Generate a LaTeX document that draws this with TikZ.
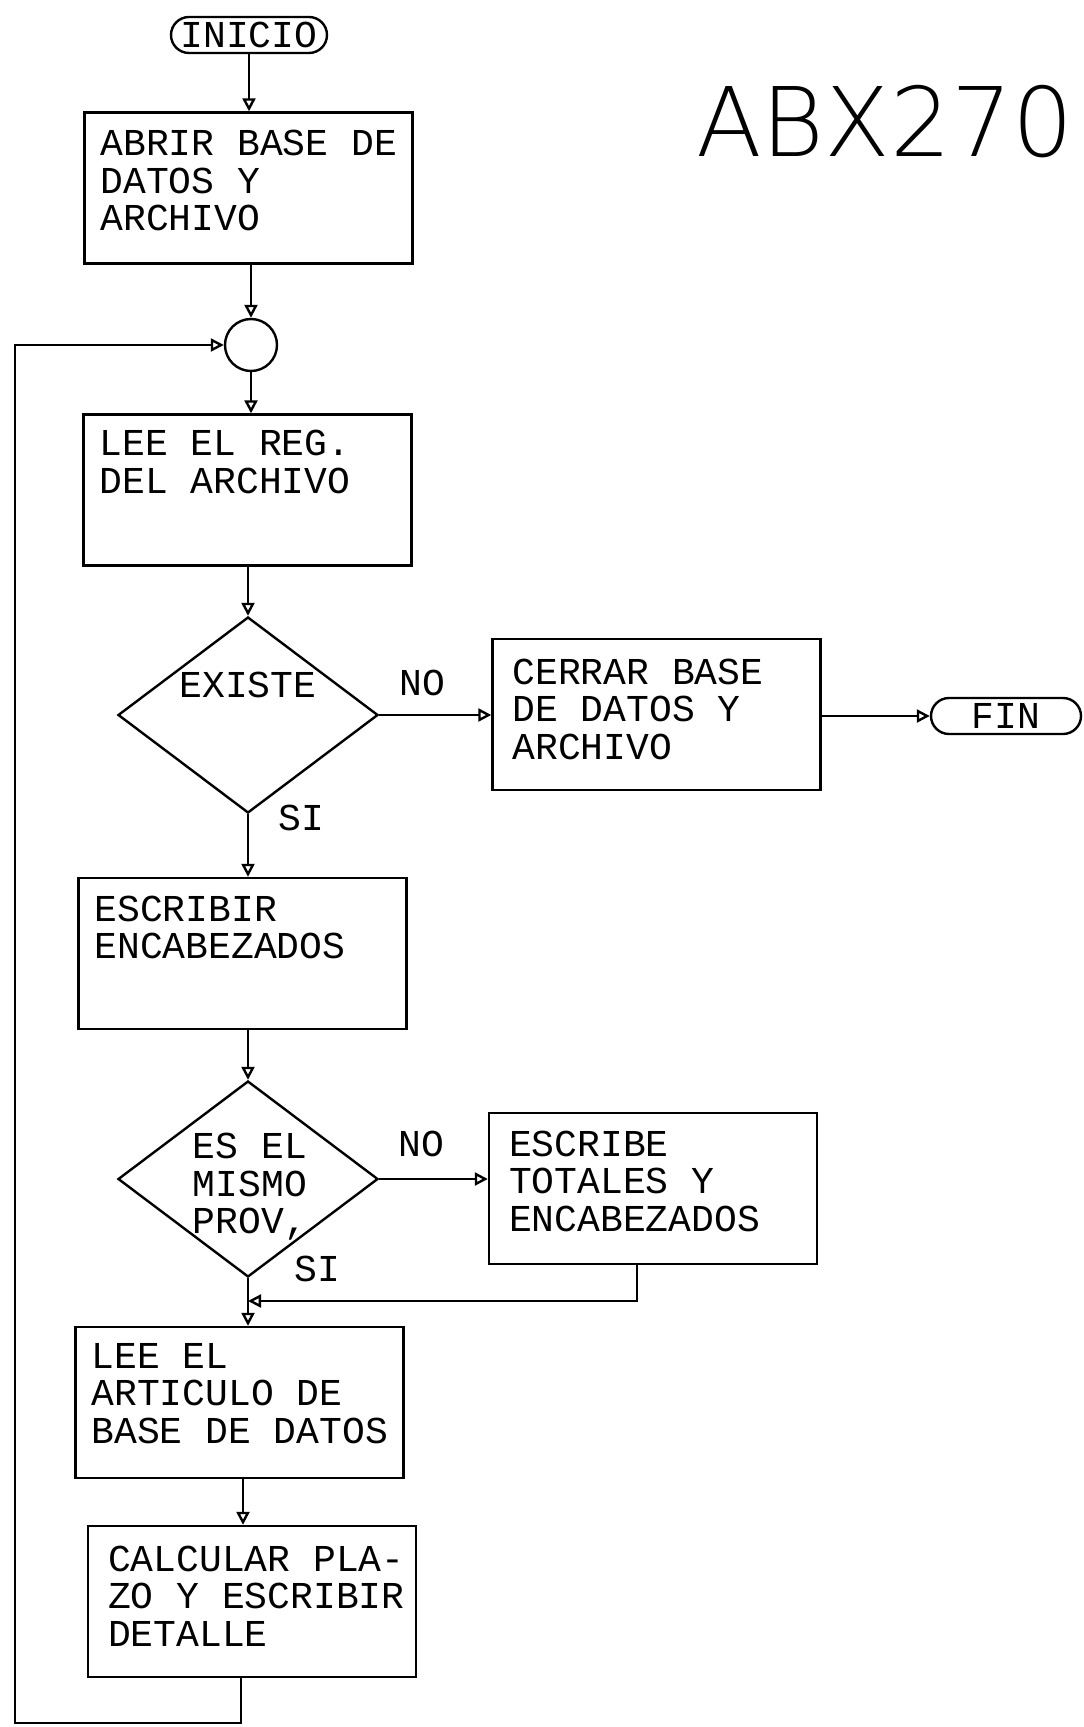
\documentclass[tikz,border=0pt]{standalone}
\usepackage{fontspec}
\newfontfamily\plotfont{Liberation Mono}
\newfontfamily\titlefont{DejaVu Sans ExtraLight}
\usetikzlibrary{positioning,arrows.meta,shapes.geometric}

\begin{document}
\begin{tikzpicture}[x=0.5pt,y=-0.5pt,line width=1.2pt,
  proc/.style={draw,rectangle,minimum width=164pt,minimum height=75.5pt,inner sep=0pt},
  term/.style={draw,rectangle,rounded corners=9pt,minimum height=18pt,inner sep=0pt,
    font=\plotfont\fontsize{19}{18.75}\selectfont},
  dec/.style={draw,diamond,minimum width=130pt,minimum height=98pt,inner sep=0pt},
  conn/.style={draw,circle,minimum size=26pt,inner sep=0pt},
  txt/.style={inner sep=0pt,align=left,anchor=north west,
    font=\plotfont\fontsize{19}{18.75}\selectfont},
  lbl/.style={inner sep=0pt,font=\plotfont\fontsize{19}{18.75}\selectfont},
  flow/.style={-{Triangle[open,length=6.5pt,width=6.5pt]}}]
\useasboundingbox (0,0) rectangle (1083,1727);
% title
\node[inner sep=0pt,font=\titlefont\fontsize{48}{48}\selectfont] (titulo) at (885,122) {ABX270};
% main column
\node[term,minimum width=78pt] (inicio) at (249,35) {INICIO};
\node[proc] (abrir) at (248.5,188) {};
\node[txt] (abrirtxt) at ([xshift=8pt,yshift=-9pt]abrir.north west) {ABRIR BASE DE\\DATOS Y\\ARCHIVO};
\node[conn] (circ) at (251,345) {};
\node[proc] (leereg) at (247.5,490) {};
\node[txt] (leeregtxt) at ([xshift=8pt,yshift=-8pt]leereg.north west) {LEE EL REG.\\DEL ARCHIVO};
\node[dec] (existe) at (248,715) {};
\node[lbl] (existetxt) at (248,685) {EXISTE};
\node[proc] (cerrar) at (656.5,714.5) {};
\node[txt] (cerrartxt) at ([xshift=10pt,yshift=-10pt]cerrar.north west) {CERRAR BASE\\DE DATOS Y\\ARCHIVO};
\node[term,minimum width=75pt] (fin) at (1006,716) {FIN};
\node[proc] (escribir) at (242.5,953.5) {};
\node[txt] (escribirtxt) at ([xshift=8pt,yshift=-9pt]escribir.north west) {ESCRIBIR\\ENCABEZADOS};
\node[dec] (mismo) at (248,1179) {};
\node[lbl,align=left] (mismotxt) at (250,1187) {ES EL\\MISMO\\PROV,};
\node[proc] (totales) at (653,1188.5) {};
\node[txt] (totalestxt) at ([xshift=10pt,yshift=-9pt]totales.north west) {ESCRIBE\\TOTALES Y\\ENCABEZADOS};
\node[proc] (leeart) at (239.5,1402.5) {};
\node[txt] (leearttxt) at ([xshift=8pt,yshift=-8pt]leeart.north west) {LEE EL\\ARTICULO DE\\BASE DE DATOS};
\node[proc] (calcular) at (252,1601.5) {};
\node[txt] (calculartxt) at ([xshift=10pt,yshift=-10pt]calcular.north west) {CALCULAR PLA-\\ZO Y ESCRIBIR\\DETALLE};
% branch labels
\node[lbl] (no1) at (422,683) {NO};
\node[lbl] (si1) at (301,818) {SI};
\node[lbl] (no2) at (421,1144) {NO};
\node[lbl] (si2) at (317,1269) {SI};
\coordinate (junta) at (251,1301);
\coordinate (retorno) at (15,1723);
% connectors
\draw[flow] (inicio) -- (inicio |- abrir.north);
\draw[flow] (abrir.south -| circ) -- (circ.north);
\draw[flow] (circ) -- (circ |- leereg.north);
\draw[flow] (leereg.south -| existe) -- (existe.north);
\draw[flow] (existe.east) -- (existe.east -| cerrar.west);
\draw[flow] (cerrar.east |- fin) -- (fin.west);
\draw[flow] (existe.south) -- (existe.south |- escribir.north);
\draw[flow] (escribir.south -| mismo) -- (mismo.north);
\draw[flow] (mismo.east) -- (mismo.east -| totales.west);
\draw[flow] (mismo.south) -- (mismo.south |- leeart.north);
\draw[flow] ([xshift=-8pt]totales.south) |- (mismo.south |- junta);
\draw[flow] (leeart.south -| 243,0) -- (calcular.north -| 243,0);
\draw[flow] ([xshift=-5.5pt]calcular.south) |- (retorno) |- (circ.west);
\end{tikzpicture}
\end{document}
